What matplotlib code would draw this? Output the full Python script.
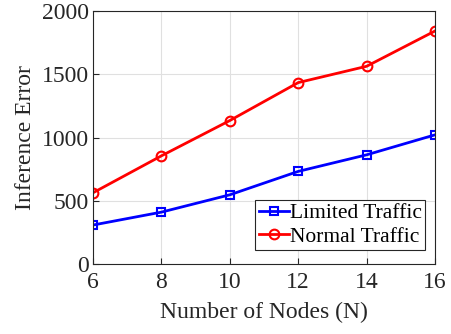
import matplotlib
matplotlib.use("Agg")
import matplotlib.pyplot as plt

nodes = [6, 8, 10, 12, 14, 16]
limited = [308, 410, 547, 732, 863, 1021]
normal = [563, 855, 1134, 1434, 1563, 1842]

plt.rcParams['font.family'] = ['Liberation Serif', 'DejaVu Serif']

fig = plt.figure(figsize=(4.52, 3.34), dpi=100)
ax = fig.add_axes([93/452, 1-264/334, (435-93)/452, (264-11)/334])

ax.plot(nodes, limited, color='#0000ff', lw=2, marker='s', ms=6, mfc='none', mew=1.5, label='Limited Traffic')
ax.plot(nodes, normal, color='#ff0000', lw=2, marker='o', ms=7, mfc='none', mew=1.5, label='Normal Traffic')

ax.set_xlim(6, 16)
ax.set_ylim(0, 2000)
ax.set_xticks(nodes)
ax.set_yticks([0, 500, 1000, 1500, 2000])
ax.grid(True, color='#e0e0e0', lw=0.8)
ax.set_axisbelow(True)
ax.tick_params(direction='in', labelsize=17, length=4, colors='#262626', labelcolor='#262626', pad=3)
ax.tick_params(axis='x', pad=6)
for s in ax.spines.values():
    s.set_color('#262626')
    s.set_linewidth(0.8)
ax.set_xlabel('Number of Nodes (N)', fontsize=17, color='#262626', labelpad=6)
ax.set_ylabel('Inference Error', fontsize=17, color='#262626', labelpad=4)

leg = ax.legend(loc='lower right', bbox_to_anchor=(425/452, 1-250/334), bbox_transform=fig.transFigure,
                fontsize=15.5, fancybox=False, framealpha=1,
                edgecolor='#262626', borderpad=0.15, handlelength=1.4, handletextpad=0.05,
                labelspacing=0.15, borderaxespad=0.0)
leg.get_frame().set_linewidth(0.8)

fig.savefig('out.png', dpi=100)
